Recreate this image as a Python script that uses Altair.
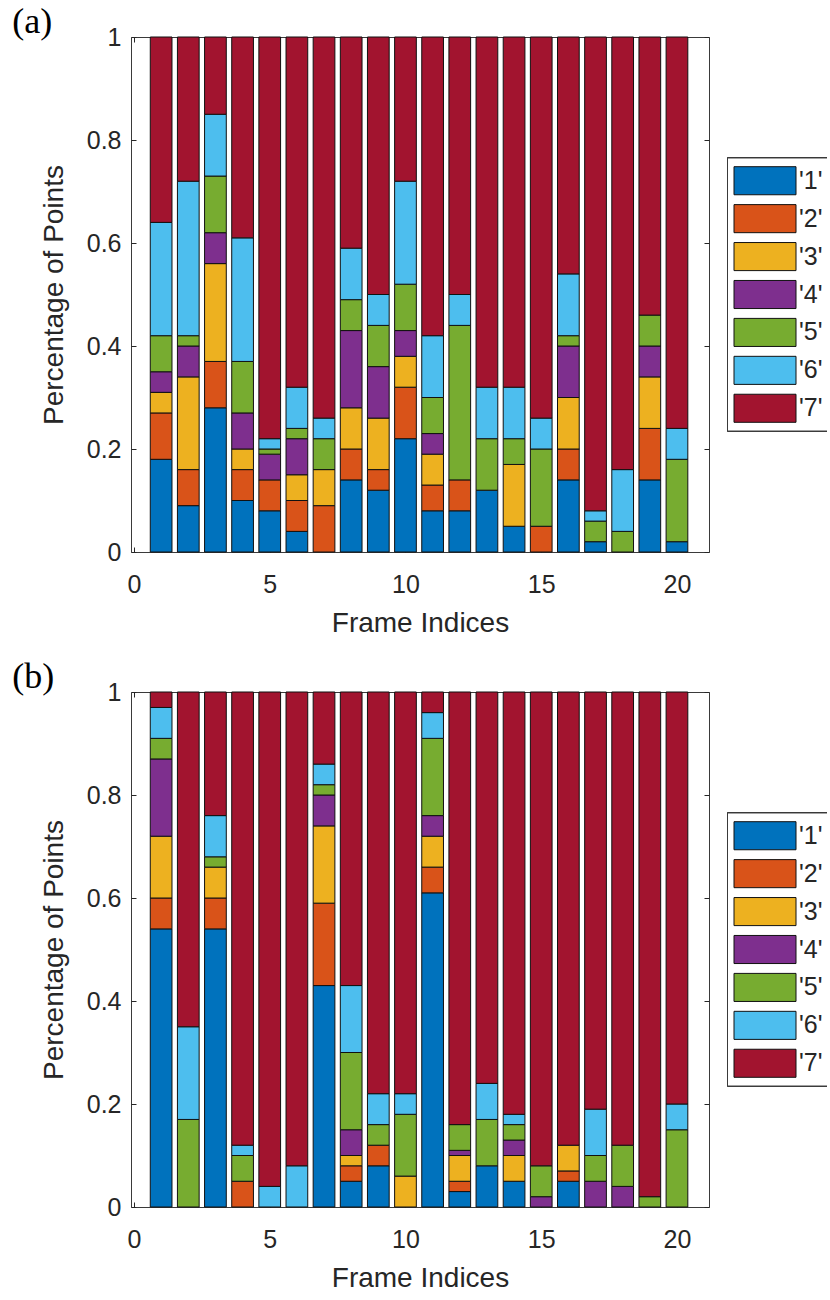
import altair as alt
import pandas as pd

frames = list(range(1, 21))
classes = ["'1'", "'2'", "'3'", "'4'", "'5'", "'6'", "'7'"]
palette = ["#0072BD", "#D95319", "#EDB120", "#7E2F8E", "#77AC30", "#4DBEEE", "#A2142F"]

# (a) share of points per class, frames 1..20
a_1 = [0.18, 0.09, 0.28, 0.10, 0.08, 0.04, 0.00, 0.14, 0.12, 0.22, 0.08, 0.08, 0.12, 0.05, 0.00, 0.14, 0.02, 0.00, 0.14, 0.02]
a_2 = [0.09, 0.07, 0.09, 0.06, 0.06, 0.06, 0.09, 0.06, 0.04, 0.10, 0.05, 0.06, 0.00, 0.00, 0.05, 0.06, 0.00, 0.00, 0.10, 0.00]
a_3 = [0.04, 0.18, 0.19, 0.04, 0.00, 0.05, 0.07, 0.08, 0.10, 0.06, 0.06, 0.00, 0.00, 0.12, 0.00, 0.10, 0.00, 0.00, 0.10, 0.00]
a_4 = [0.04, 0.06, 0.06, 0.07, 0.05, 0.07, 0.00, 0.15, 0.10, 0.05, 0.04, 0.00, 0.00, 0.00, 0.00, 0.10, 0.00, 0.00, 0.06, 0.00]
a_5 = [0.07, 0.02, 0.11, 0.10, 0.01, 0.02, 0.06, 0.06, 0.08, 0.09, 0.07, 0.30, 0.10, 0.05, 0.15, 0.02, 0.04, 0.04, 0.06, 0.16]
a_6 = [0.22, 0.30, 0.12, 0.24, 0.02, 0.08, 0.04, 0.10, 0.06, 0.20, 0.12, 0.06, 0.10, 0.10, 0.06, 0.12, 0.02, 0.12, 0.00, 0.06]
a_7 = [0.36, 0.28, 0.15, 0.39, 0.78, 0.68, 0.74, 0.41, 0.50, 0.28, 0.58, 0.50, 0.68, 0.68, 0.74, 0.46, 0.92, 0.84, 0.54, 0.76]

# (b) share of points per class, frames 1..20
b_1 = [0.54, 0.00, 0.54, 0.00, 0.00, 0.00, 0.43, 0.05, 0.08, 0.00, 0.61, 0.03, 0.08, 0.05, 0.00, 0.05, 0.00, 0.00, 0.00, 0.00]
b_2 = [0.06, 0.00, 0.06, 0.05, 0.00, 0.00, 0.16, 0.03, 0.04, 0.00, 0.05, 0.02, 0.00, 0.00, 0.00, 0.02, 0.00, 0.00, 0.00, 0.00]
b_3 = [0.12, 0.00, 0.06, 0.00, 0.00, 0.00, 0.15, 0.02, 0.00, 0.06, 0.06, 0.05, 0.00, 0.05, 0.00, 0.05, 0.00, 0.00, 0.00, 0.00]
b_4 = [0.15, 0.00, 0.00, 0.00, 0.00, 0.00, 0.06, 0.05, 0.00, 0.00, 0.04, 0.01, 0.00, 0.03, 0.02, 0.00, 0.05, 0.04, 0.00, 0.00]
b_5 = [0.04, 0.17, 0.02, 0.05, 0.00, 0.00, 0.02, 0.15, 0.04, 0.12, 0.15, 0.05, 0.09, 0.03, 0.06, 0.00, 0.05, 0.08, 0.02, 0.15]
b_6 = [0.06, 0.18, 0.08, 0.02, 0.04, 0.08, 0.04, 0.13, 0.06, 0.04, 0.05, 0.00, 0.07, 0.02, 0.00, 0.00, 0.09, 0.00, 0.00, 0.05]
b_7 = [0.03, 0.65, 0.24, 0.88, 0.96, 0.92, 0.14, 0.57, 0.78, 0.78, 0.04, 0.84, 0.76, 0.82, 0.92, 0.88, 0.81, 0.88, 0.98, 0.80]

x_ticks = [0, 5, 10, 15, 20]
y_ticks = [0, 0.2, 0.4, 0.6, 0.8, 1]

TEXT = "#262626"
FRAME = "#3a3a3a"
FONT = "Liberation Sans"

color = alt.Color("cls:N", scale=alt.Scale(domain=classes, range=palette), legend=None)


def to_long(series):
    rows = []
    for k, values in enumerate(series):
        for frame, v in zip(frames, values):
            rows.append({"frame": frame, "cls": classes[k], "order": k, "value": v})
    return pd.DataFrame(rows)


def bar_panel(series, tag):
    base = (
        alt.Chart(to_long(series))
        .transform_stack(
            stack="value",
            groupby=["frame"],
            as_=["y0", "y1"],
            sort=[alt.SortField("order", order="ascending")],
        )
        .transform_filter("datum.value > 0")
        .transform_calculate(x0="datum.frame - 0.4", x1="datum.frame + 0.4")
    )
    xs = alt.Scale(domain=[-0.11, 21.18], nice=False, zero=False)
    ys = alt.Scale(domain=[0, 1], nice=False, zero=False)
    # ticks drawn inward: axis shifted into the plot by its tick length
    ticks = dict(domain=False, grid=False, ticks=True, tickSize=5,
                 tickColor=TEXT, tickWidth=1, offset=-5)
    bars = base.mark_rect(stroke="#111111", strokeWidth=1).encode(
        x=alt.X("x0:Q", scale=xs,
                axis=alt.Axis(values=x_ticks, format="d", title="Frame Indices",
                              labelPadding=20, titlePadding=12, **ticks)),
        x2="x1:Q",
        y=alt.Y("y0:Q", scale=ys,
                axis=alt.Axis(values=y_ticks, format="~g", title="Percentage of Points",
                              labelPadding=10, titlePadding=18, **ticks)),
        y2="y1:Q",
        color=color,
    )
    mirror = base.mark_rect(opacity=0).encode(
        x=alt.X("x0:Q", scale=xs,
                axis=alt.Axis(orient="top", values=x_ticks, labels=False, title=None, **ticks)),
        x2="x1:Q",
        y=alt.Y("y0:Q", scale=ys,
                axis=alt.Axis(orient="right", values=y_ticks, labels=False, title=None, **ticks)),
        y2="y1:Q",
    )
    return (
        alt.layer(bars, mirror)
        .resolve_axis(x="independent", y="independent")
        .properties(
            width=578,
            height=515,
            title=alt.TitleParams(tag, anchor="start", frame="bounds",
                                  font="Liberation Serif", fontSize=36,
                                  fontWeight="normal", color="black",
                                  dx=-28, offset=-16),
        )
    )


def legend_panel():
    entries = pd.DataFrame({"cls": classes, "row": list(range(len(classes)))})
    lx = alt.Scale(domain=[0, 1], nice=False, zero=False)
    ly = alt.Scale(domain=[-3.79, 9.79], nice=False, zero=False, reverse=True)
    box = alt.Chart(entries).mark_rect(
        fill="white", stroke=FRAME, strokeWidth=1, clip=True
    ).encode(
        x=alt.XDatum(0.005, type="quantitative", scale=lx, axis=None),
        x2=alt.X2Datum(1.1),
        y=alt.YDatum(-0.6, type="quantitative", scale=ly, axis=None),
        y2=alt.Y2Datum(6.6),
    )
    swatches = alt.Chart(entries).transform_calculate(
        top="datum.row - 0.37", bot="datum.row + 0.37"
    ).mark_rect(stroke="#111111", strokeWidth=1).encode(
        x=alt.XDatum(0.07, type="quantitative", scale=lx, axis=None),
        x2=alt.X2Datum(0.69),
        y=alt.Y("top:Q", scale=ly, axis=None),
        y2="bot:Q",
        color=color,
    )
    labels = alt.Chart(entries).mark_text(
        align="left", baseline="middle", font=FONT, fontSize=25, color=TEXT
    ).encode(
        x=alt.XDatum(0.72, type="quantitative", scale=lx, axis=None),
        y=alt.Y("row:Q", scale=ly, axis=None),
        text="cls:N",
    )
    return alt.layer(box, swatches, labels).properties(
        width=100, height=515, view=alt.ViewBackground(strokeOpacity=0)
    )


row_a = alt.hconcat(bar_panel([a_1, a_2, a_3, a_4, a_5, a_6, a_7], "(a)"),
                    legend_panel(), spacing=18, bounds="flush")
row_b = alt.hconcat(bar_panel([b_1, b_2, b_3, b_4, b_5, b_6, b_7], "(b)"),
                    legend_panel(), spacing=18, bounds="flush")

chart = (
    alt.vconcat(row_a, row_b, spacing=20)
    .properties(padding={"left": 11, "top": 3, "right": 0, "bottom": 5},
                background="white")
    .configure_axis(labelFont=FONT, labelFontSize=25, labelColor=TEXT,
                    titleFont=FONT, titleFontSize=28, titleColor=TEXT,
                    titleFontWeight="normal")
    .configure_view(stroke=FRAME, strokeWidth=1)
)

chart.save("out.html", embed_options={"renderer": "svg", "actions": False})
